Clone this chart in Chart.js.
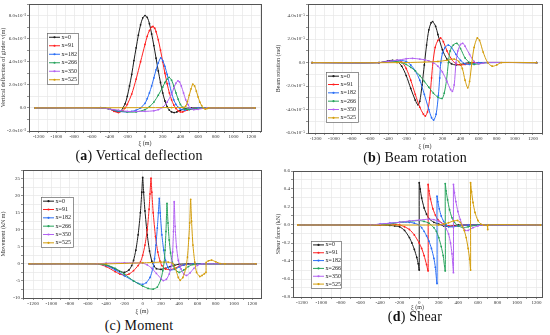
<!DOCTYPE html>
<html>
<head>
<meta charset="utf-8">
<title>Girder response</title>
<script src="https://cdn.jsdelivr.net/npm/chart.js@4"></script>
<style>
  body { margin: 0; background: #fff; width: 550px; height: 335px; position: relative; overflow: hidden; }
  canvas { position: absolute; }
  .cap { position: absolute; text-align: center; font-family: "Liberation Serif", serif; font-size: 14px; letter-spacing: 0.2px; color: #111; white-space: nowrap; line-height: 15px; }
</style>
</head>
<body>
<canvas id="chA" width="275" height="147" style="left:0;top:0"></canvas>
<canvas id="chB" width="275" height="150" style="left:275px;top:0"></canvas>
<canvas id="chC" width="275" height="150" style="left:0;top:165px"></canvas>
<canvas id="chD" width="275" height="146" style="left:275px;top:165px"></canvas>
<div class="cap" style="left:0;top:148px;width:278px">(<b>a</b>) Vertical deflection</div>
<div class="cap" style="left:275px;top:150px;width:280px">(<b>b</b>) Beam rotation</div>
<div class="cap" style="left:0;top:318px;width:278px">(c) Moment</div>
<div class="cap" style="left:275px;top:309px;width:280px">(<b>d</b>) Shear</div>
<script>
// load positions
var seriesLabels = ['x=0', 'x=91', 'x=182', 'x=266', 'x=350', 'x=525'];
var seriesColors = ['#1c1c1c', '#ff2020', '#2a6ef5', '#27a35c', '#b262f2', '#d39d0c'];
var xTickLabels = [-1200, -1000, -800, -600, -400, -200, 0, 200, 400, 600, 800, 1000, 1200];

// (a) vertical deflection, [xi (m), v (10^-3 m)]
var defl0 = [[-1240,0],[-500,0.02],[-400,-0.1],[-350,-0.25],[-300,-0.35],[-270,-0.25],[-250,0],[-225,0.35],[-200,1.0],[-175,1.9],[-150,2.9],[-125,4.1],[-100,5.2],[-75,6.3],[-50,7.2],[-25,7.8],[0,8.0],[25,7.85],[50,7.3],[75,6.4],[100,5.4],[125,4.3],[150,3.2],[175,2.2],[200,1.3],[225,0.6],[250,0.1],[275,-0.2],[300,-0.35],[330,-0.4],[360,-0.35],[400,-0.2],[450,-0.05],[520,0],[1240,0]];
var defl1 = [[-1240,0],[-500,0],[-400,-0.1],[-350,-0.3],[-300,-0.4],[-250,-0.25],[-225,0],[-200,0.3],[-150,1.2],[-100,2.5],[-50,4.0],[0,5.5],[25,6.2],[50,6.7],[75,7.0],[90,7.05],[110,6.9],[125,6.6],[150,5.9],[175,5.0],[200,4.0],[225,3.0],[250,2.1],[275,1.3],[300,0.7],[325,0.25],[350,-0.05],[375,-0.25],[400,-0.35],[425,-0.35],[475,-0.2],[550,-0.05],[650,0],[1240,0]];
var defl2 = [[-1240,0],[-450,0],[-400,-0.1],[-300,-0.3],[-200,-0.35],[-150,-0.3],[-100,-0.2],[-50,0],[0,0.4],[25,0.8],[50,1.3],[75,1.9],[100,2.6],[125,3.3],[150,3.9],[178,4.33],[200,4.1],[225,3.6],[250,2.9],[275,2.1],[300,1.3],[325,0.7],[350,0.3],[375,0.05],[400,-0.1],[450,-0.2],[500,-0.1],[600,0],[1240,0]];
var defl3 = [[-1240,0],[-500,0],[-400,-0.1],[-300,-0.25],[-200,-0.35],[-100,-0.35],[0,-0.15],[50,0.1],[100,0.5],[150,1.1],[200,1.8],[225,2.2],[250,2.5],[272,2.65],[300,2.4],[325,1.9],[350,1.3],[375,0.75],[400,0.3],[425,0.05],[450,-0.1],[500,-0.15],[550,-0.1],[650,0],[1240,0]];
var defl4 = [[-1240,0],[-500,0],[-400,-0.1],[-300,-0.2],[-200,-0.3],[-100,-0.3],[0,-0.3],[100,-0.25],[150,-0.15],[200,0.05],[250,0.5],[300,1.2],[325,1.7],[350,2.15],[372,2.34],[390,2.25],[410,1.9],[435,1.3],[460,0.7],[485,0.3],[510,0],[550,-0.15],[600,-0.12],[700,0],[1240,0]];
var defl5 = [[-1240,0],[300,0.03],[440,0.05],[460,0.15],[480,0.55],[500,1.1],[520,1.65],[540,2.05],[560,1.9],[580,1.45],[600,0.95],[620,0.5],[640,0.2],[660,0],[680,-0.1],[700,-0.05],[720,0],[1240,0]];

// (b) beam rotation, [xi (m), theta (10^-5 rad)]
var rot0 = [[-1240,0],[-500,0],[-400,0.15],[-350,0.2],[-300,0.1],[-250,-0.3],[-200,-1.1],[-150,-2.2],[-100,-3.2],[-70,-3.6],[-50,-3.3],[-25,-1.9],[0,-0.2],[25,1.5],[50,2.8],[75,3.4],[92,3.5],[125,3.1],[150,2.4],[200,1.1],[250,0.3],[300,-0.1],[350,-0.2],[400,-0.15],[500,0],[1240,0]];
var rot1 = [[-1240,0],[-500,0],[-400,0.1],[-300,0.2],[-250,0.05],[-200,-0.5],[-150,-1.5],[-100,-2.7],[-50,-3.8],[-10,-4.4],[11,-4.55],[35,-4.2],[60,-3.0],[80,-1.3],[95,0],[120,1.3],[150,1.9],[180,2.1],[210,1.8],[250,1.0],[300,0.3],[350,-0.1],[400,-0.2],[450,-0.15],[550,0],[1240,0]];
var rot2 = [[-1240,0],[-500,0],[-400,0.1],[-300,0.2],[-200,0.1],[-150,-0.2],[-100,-0.7],[-50,-1.5],[0,-2.7],[50,-4.0],[80,-4.7],[103,-4.9],[130,-4.4],[155,-2.8],[170,-1.3],[182,0],[200,0.8],[230,1.3],[265,1.5],[300,1.3],[350,0.7],[400,0.2],[450,-0.1],[500,-0.15],[600,0],[1240,0]];
var rot3 = [[-1240,0],[-500,0],[-300,0.1],[-250,0],[-200,-0.15],[-150,-0.4],[-100,-0.7],[-50,-1.1],[0,-1.6],[50,-2.1],[100,-2.6],[150,-2.95],[196,-3.05],[220,-2.6],[245,-1.5],[266,0],[285,1.0],[320,1.5],[360,1.65],[400,1.2],[450,0.4],[500,0],[550,-0.15],[600,-0.1],[700,0],[1240,0]];
var rot4 = [[-1240,0],[-500,0],[-400,0.1],[-300,0.2],[-200,0.33],[-130,0.37],[-50,0.3],[0,0.25],[50,0.15],[100,0],[150,-0.3],[200,-0.8],[250,-1.6],[290,-2.3],[310,-2.45],[330,-1.9],[350,0],[370,1.0],[400,1.55],[425,1.65],[450,1.4],[500,0.7],[550,0.1],[600,-0.1],[650,-0.05],[700,0],[1240,0]];
var rot5 = [[-1240,0],[-300,0],[0,0.05],[150,0.1],[250,0.2],[330,0.3],[380,0.1],[420,-0.5],[450,-1.5],[480,-2.15],[500,-1.6],[525,0],[550,1.3],[585,2.1],[610,1.9],[650,0.9],[700,0],[750,-0.3],[800,-0.2],[850,0],[1240,0]];

// (c) moment, [xi (m), M (kN m)]
var mom0 = [[-1240,0],[-500,0],[-400,-0.3],[-300,-1.5],[-250,-2.2],[-200,-2.5],[-150,-1.8],[-120,-0.5],[-100,1.0],[-75,4.0],[-50,8.5],[-25,15],[-10,21],[0,25.3],[10,21],[25,15.5],[50,8.5],[75,3.8],[100,0.8],[125,-0.7],[150,-1.4],[200,-1.6],[250,-1.3],[300,-0.8],[350,-0.4],[400,-0.1],[500,0],[1240,0]];
var mom1 = [[-1240,0],[-500,0],[-400,-0.8],[-300,-2.3],[-250,-3.0],[-200,-3.3],[-150,-3.0],[-100,-2.0],[-50,-0.5],[-25,0.5],[0,2.5],[25,5.5],[50,10],[70,16],[80,20.5],[91,25.1],[100,21],[115,15],[140,8],[165,3.5],[190,0.8],[210,-0.5],[250,-1.5],[300,-1.7],[350,-1.3],[400,-0.7],[450,-0.3],[550,0],[1240,0]];
var mom2 = [[-1240,0],[-500,0],[-400,-0.5],[-300,-1.8],[-200,-3.5],[-100,-5.0],[-50,-5.7],[0,-6.0],[40,-5.5],[80,-4.0],[110,-1.5],[130,1.5],[145,5.5],[160,10.5],[172,15],[182,19.2],[192,15],[210,8.5],[230,4.0],[250,1.0],[275,-1.0],[300,-1.8],[350,-1.6],[400,-0.9],[450,-0.3],[550,0],[1240,0]];
var mom3 = [[-1240,0],[-500,0],[-400,-0.3],[-300,-1.3],[-200,-3.0],[-100,-5.0],[0,-6.5],[60,-7.2],[115,-7.4],[160,-6.8],[200,-4.5],[220,-2.0],[235,0.5],[245,4.0],[255,9.5],[266,17.7],[277,12],[290,7],[305,3.2],[325,0.5],[350,-1.5],[400,-2.5],[450,-1.8],[500,-0.8],[550,-0.2],[650,0],[1240,0]];
var mom4 = [[-1240,0],[-500,0],[-400,0.2],[-200,0.3],[0,0.2],[50,-0.3],[100,-1.3],[150,-2.8],[200,-4.3],[225,-4.9],[260,-4.5],[290,-3.0],[315,-0.5],[328,3.5],[337,9.5],[345,18.2],[355,11],[370,5.0],[390,1.0],[420,-1.5],[450,-3.0],[480,-3.4],[520,-2.6],[560,-1.3],[600,-0.4],[650,0],[1240,0]];
var mom5 = [[-1240,0],[-400,0],[0,0.3],[200,0.5],[280,0.5],[330,0.1],[360,-1.5],[390,-4.0],[410,-4.8],[440,-4.0],[470,-1.5],[490,2.0],[505,7.5],[515,12],[525,18.9],[535,12.5],[550,5.5],[570,0.5],[590,-2.5],[625,-3.7],[650,-3.4],[675,-2.9],[693,-2.5],[695,0.4],[720,0.9],[755,1.1],[800,0.6],[850,0.1],[900,0],[1240,0]];

// (d) shear, [xi (m), V (kN)]
var shr0 = [[-1240,0],[-400,0],[-300,-0.005],[-250,-0.01],[-200,-0.02],[-150,-0.06],[-100,-0.14],[-75,-0.2],[-50,-0.27],[-25,-0.36],[-10,-0.43],[0,-0.5],[0,0.47],[10,0.4],[25,0.3],[50,0.19],[75,0.12],[100,0.07],[150,0.03],[200,0.01],[250,-0.01],[300,-0.015],[400,0],[1240,0]];
var shr1 = [[-1240,0],[-400,0],[-300,0.01],[-200,0],[-150,-0.02],[-100,-0.05],[-50,-0.11],[0,-0.2],[25,-0.26],[50,-0.34],[75,-0.44],[91,-0.51],[91,0.45],[100,0.38],[115,0.29],[140,0.18],[165,0.11],[190,0.06],[250,0.01],[300,-0.01],[400,-0.01],[500,0],[1240,0]];
var shr2 = [[-1240,0],[-500,0],[-400,0.01],[-300,0.02],[-200,0.03],[-100,0.03],[-50,0.02],[0,0],[25,-0.03],[50,-0.07],[75,-0.12],[100,-0.18],[125,-0.26],[150,-0.37],[165,-0.47],[182,-0.65],[182,0.32],[190,0.26],[205,0.18],[225,0.1],[250,0.04],[275,0],[300,-0.02],[350,-0.02],[400,-0.01],[500,0],[1240,0]];
var shr3 = [[-1240,0],[-500,0],[-300,0.01],[-200,0.03],[-100,0.04],[0,0.05],[50,0.04],[100,0.02],[150,-0.03],[175,-0.07],[200,-0.14],[225,-0.24],[245,-0.34],[266,-0.51],[266,0.46],[275,0.38],[290,0.28],[310,0.17],[335,0.08],[360,0.03],[400,-0.01],[450,-0.03],[500,-0.02],[600,0],[1240,0]];
var shr4 = [[-1240,0],[-500,0],[-400,0.01],[-300,0.02],[-200,0.03],[-100,0.045],[0,0.055],[100,0.065],[150,0.06],[200,0.04],[250,0],[275,-0.04],[300,-0.1],[320,-0.2],[335,-0.32],[350,-0.53],[350,0.45],[360,0.36],[375,0.26],[395,0.15],[420,0.06],[440,0],[470,-0.06],[500,-0.06],[550,-0.03],[600,-0.01],[650,0],[1240,0]];
var shr5 = [[-1240,0],[200,0],[250,0.01],[300,0.025],[350,0.045],[390,0.05],[420,0.03],[440,-0.01],[460,-0.06],[480,-0.14],[500,-0.26],[515,-0.38],[525,-0.5],[525,0.47],[535,0.37],[550,0.25],[570,0.14],[600,0.05],[630,0.01],[660,0],[695,-0.005],[700,-0.05],[705,0],[1240,0]];

var FONT = 'Liberation Serif';

// plot frame on all four sides
var framePlugin = {
  id: 'frame',
  afterDraw: function(chart) {
    var a = chart.chartArea, ctx = chart.ctx;
    ctx.save();
    ctx.strokeStyle = '#555';
    ctx.lineWidth = 1;
    ctx.strokeRect(Math.round(a.left) + 0.5, Math.round(a.top) + 0.5, Math.round(a.right - a.left), Math.round(a.bottom - a.top));
    ctx.restore();
  }
};

// boxed legend sitting inside the plot
var boxLegendPlugin = {
  id: 'boxLegend',
  afterDraw: function(chart, args, opts) {
    var ctx = chart.ctx;
    var x = opts.x, y = opts.y, w = opts.w, h = opts.h;
    var row = h / seriesLabels.length;
    ctx.save();
    ctx.fillStyle = '#fff';
    ctx.fillRect(x, y, w, h);
    ctx.strokeStyle = '#666';
    ctx.lineWidth = 0.7;
    ctx.strokeRect(x + 0.5, y + 0.5, w, h);
    ctx.font = '6px "' + FONT + '"';
    ctx.textBaseline = 'middle';
    for (var i = 0; i < seriesLabels.length; i++) {
      var cy = y + row * (i + 0.5);
      ctx.strokeStyle = seriesColors[i];
      ctx.lineWidth = 1;
      ctx.beginPath();
      ctx.moveTo(x + 2, cy);
      ctx.lineTo(x + 13, cy);
      ctx.stroke();
      ctx.fillStyle = seriesColors[i];
      ctx.beginPath();
      ctx.arc(x + 7.5, cy, 1.1, 0, Math.PI * 2);
      ctx.fill();
      ctx.fillStyle = '#222';
      ctx.fillText(seriesLabels[i], x + 14.5, cy);
    }
    ctx.restore();
  }
};

// grid every 100 m (minor) with labels every 200 m
function xGridTicks(scale) {
  var out = [];
  for (var v = -1300; v <= 1300; v += 100) {
    if (v >= scale.min && v <= scale.max) out.push({ value: v });
  }
  scale.ticks = out;
}
function yGridTicks(step) {
  return function(scale) {
    var out = [];
    var n0 = Math.ceil(scale.min / step - 1e-6), n1 = Math.floor(scale.max / step + 1e-6);
    for (var n = n0; n <= n1; n++) out.push({ value: Math.round(n * step * 1000) / 1000 });
    scale.ticks = out;
  };
}

function makeChart(id, series, o) {
  var datasets = series.map(function(s, i) {
    return {
      label: seriesLabels[i],
      data: s.map(function(p) { return {x: p[0], y: p[1]}; }),
      borderColor: seriesColors[i],
      backgroundColor: seriesColors[i],
      borderWidth: 1,
      pointRadius: 0.9,
      pointBorderWidth: 0,
      pointBackgroundColor: seriesColors[i],
      tension: o.tension,
      order: series.length - i
    };
  });
  return new Chart(document.getElementById(id), {
    type: 'line',
    data: { datasets: datasets },
    plugins: [framePlugin, boxLegendPlugin],
    options: {
      responsive: false,
      animation: false,
      devicePixelRatio: 1,
      layout: { padding: { top: o.top, right: o.right, left: 0, bottom: 0 } },
      plugins: {
        legend: { display: false },
        tooltip: { enabled: false },
        boxLegend: o.legend
      },
      scales: {
        x: {
          type: 'linear',
          min: o.xMin,
          max: o.xMax,
          afterBuildTicks: xGridTicks,
          afterFit: function(s) { s.height = o.xh; },
          ticks: {
            autoSkip: false,
            maxRotation: 0,
            minRotation: 0,
            padding: 1,
            color: '#333',
            font: { family: FONT, size: 5 },
            callback: function(v) { return xTickLabels.indexOf(v) >= 0 ? String(v) : ''; }
          },
          grid: { color: '#e6e6e6', lineWidth: 0.7, tickLength: 2, tickColor: '#666' },
          border: { color: '#555' },
          title: { display: true, text: 'ξ (m)', color: '#333', font: { family: FONT, size: 6 }, padding: 0 }
        },
        y: {
          min: o.yMin,
          max: o.yMax,
          afterBuildTicks: yGridTicks(o.yStep),
          afterFit: function(s) { s.width = o.yw; },
          ticks: {
            autoSkip: false,
            padding: 1,
            color: '#333',
            font: { family: FONT, size: 5 },
            callback: o.yFmt
          },
          grid: { color: '#e6e6e6', lineWidth: 0.7, tickLength: 2, tickColor: '#666' },
          border: { color: '#555' },
          title: { display: true, text: o.yTitle, color: '#333', font: { family: FONT, size: 6 }, padding: { top: 0, bottom: 1 } }
        }
      }
    }
  });
}

function sciFmt(labels, exp) {
  return function(v) {
    var r = Math.round(v * 100) / 100;
    if (labels.indexOf(r) < 0) return '';
    return r === 0 ? '0.0' : r.toFixed(1) + 'x10' + exp;
  };
}
function plainFmt(labels, digits) {
  return function(v) {
    var r = Math.round(v * 100) / 100;
    if (labels.indexOf(r) < 0) return '';
    return r.toFixed(digits);
  };
}

var yTicksA = [-2, 0, 2, 4, 6, 8];
var yTicksB = [-6, -4, -2, 0, 2, 4];
var yTicksC = [-10, -5, 0, 5, 10, 15, 20, 25];
var yTicksD = [-0.8, -0.6, -0.4, -0.2, 0, 0.2, 0.4, 0.6];

makeChart('chA', [defl0, defl1, defl2, defl3, defl4, defl5], {
  xMin: -1310, xMax: 1310, yMin: -2, yMax: 9, yStep: 1,
  yFmt: sciFmt(yTicksA, '⁻³'), yTitle: 'Vertical deflection of girder v(m)',
  top: 3, right: 14, yw: 29, xh: 16, tension: 0.3,
  legend: { x: 47, y: 33, w: 31, h: 51 }
});
makeChart('chB', [rot0, rot1, rot2, rot3, rot4, rot5], {
  xMin: -1285, xMax: 1300, yMin: -6, yMax: 5, yStep: 1,
  yFmt: sciFmt(yTicksB, '⁻⁵'), yTitle: 'Beam rotation (rad)',
  top: 2, right: 8, yw: 33, xh: 17, tension: 0.3,
  legend: { x: 51, y: 72, w: 32, h: 50 }
});
makeChart('chC', [mom0, mom1, mom2, mom3, mom4, mom5], {
  xMin: -1310, xMax: 1295, yMin: -10, yMax: 27.5, yStep: 2.5,
  yFmt: plainFmt(yTicksC, 0), yTitle: 'Movement (kN m)',
  top: 5, right: 14, yw: 23, xh: 17, tension: 0.2,
  legend: { x: 41, y: 32, w: 32, h: 50 }
});
makeChart('chD', [shr0, shr1, shr2, shr3, shr4, shr5], {
  xMin: -1290, xMax: 1255, yMin: -0.8, yMax: 0.6, yStep: 0.1,
  yFmt: plainFmt(yTicksD, 1), yTitle: 'Shear force (kN)',
  top: 6, right: 8, yw: 18, xh: 14, tension: 0.2,
  legend: { x: 36, y: 76, w: 30, h: 47 }
});
</script>
</body>
</html>
